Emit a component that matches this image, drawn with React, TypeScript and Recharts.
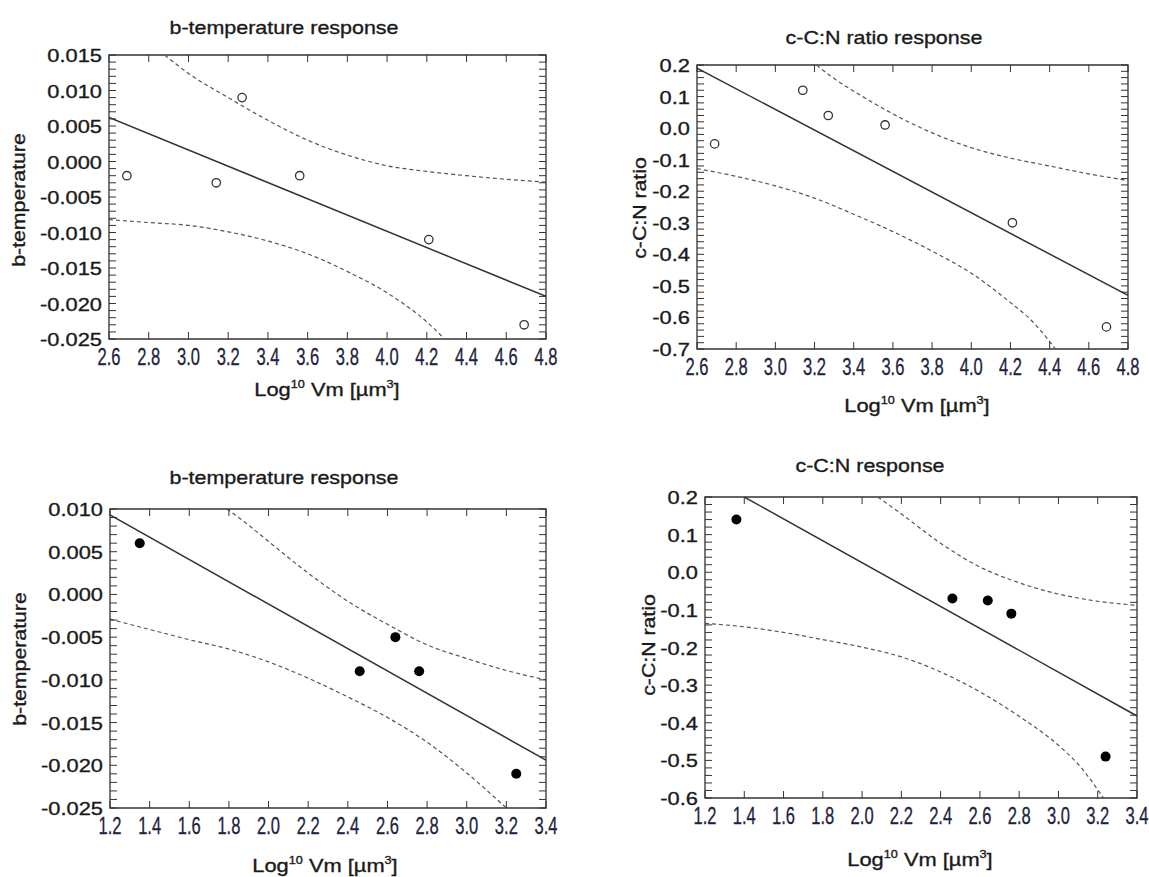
import { ComposedChart, Line, Scatter, XAxis, YAxis, ReferenceArea } from 'recharts';

// ---- top row: b-temperature / C:N ratio vs log10 cell volume (open circles)
const xTicksTop = [2.6, 2.8, 3.0, 3.2, 3.4, 3.6, 3.8, 4.0, 4.2, 4.4, 4.6, 4.8];

const tempPointsTop = [[2.69, -0.002], [3.14, -0.003], [3.27, 0.009], [3.56, -0.002], [4.21, -0.011], [4.69, -0.023]];
const tempFitTop = [[2.6, 0.0062], [4.8, -0.019]];
const tempUpperTop = [[2.88, 0.015], [3.0, 0.0124], [3.2, 0.009], [3.4, 0.0058], [3.6, 0.003], [3.8, 0.0009], [4.0, -0.0006], [4.2, -0.0014], [4.4, -0.002], [4.6, -0.0025], [4.8, -0.0029]];
const tempLowerTop = [[2.6, -0.0082], [2.8, -0.0086], [3.0, -0.009], [3.2, -0.0099], [3.4, -0.0112], [3.6, -0.013], [3.8, -0.0155], [4.0, -0.0185], [4.2, -0.0226], [4.29, -0.025]];

const cnPointsTop = [[2.69, -0.05], [3.14, 0.12], [3.27, 0.04], [3.56, 0.01], [4.21, -0.3], [4.69, -0.63]];
const cnFitTop = [[2.6, 0.19], [4.8, -0.53]];
const cnUpperTop = [[3.21, 0.2], [3.3, 0.157], [3.4, 0.117], [3.5, 0.08], [3.6, 0.045], [3.8, -0.015], [4.0, -0.062], [4.2, -0.095], [4.4, -0.12], [4.6, -0.145], [4.8, -0.166]];
const cnLowerTop = [[2.6, -0.128], [2.8, -0.153], [3.0, -0.183], [3.2, -0.222], [3.4, -0.273], [3.6, -0.328], [3.8, -0.39], [4.0, -0.46], [4.2, -0.553], [4.3, -0.605], [4.43, -0.7]];

// ---- bottom row (filled circles)
const xTicksBottom = [1.2, 1.4, 1.6, 1.8, 2.0, 2.2, 2.4, 2.6, 2.8, 3.0, 3.2, 3.4];

const tempPointsBottom = [[1.35, 0.006], [2.46, -0.009], [2.64, -0.005], [2.76, -0.009], [3.25, -0.021]];
const tempFitBottom = [[1.2, 0.0093], [3.4, -0.0194]];
const tempUpperBottom = [[1.79, 0.01], [1.9, 0.0081], [2.0, 0.0062], [2.2, 0.0025], [2.4, -0.0008], [2.6, -0.0035], [2.8, -0.0059], [3.0, -0.0075], [3.2, -0.0089], [3.4, -0.01]];
const tempLowerBottom = [[1.2, -0.0029], [1.4, -0.0041], [1.6, -0.0053], [1.8, -0.0064], [2.0, -0.0079], [2.2, -0.0098], [2.4, -0.012], [2.6, -0.0144], [2.8, -0.0173], [3.0, -0.0209], [3.2, -0.025]];

const cnPointsBottom = [[1.36, 0.14], [2.46, -0.07], [2.64, -0.075], [2.76, -0.11], [3.24, -0.49]];
const cnFitBottom = [[1.4, 0.2], [3.4, -0.382]];
const cnUpperBottom = [[2.08, 0.2], [2.2, 0.155], [2.4, 0.077], [2.6, 0.014], [2.8, -0.028], [3.0, -0.058], [3.2, -0.077], [3.4, -0.088]];
const cnLowerBottom = [[1.2, -0.136], [1.4, -0.145], [1.6, -0.16], [1.8, -0.179], [2.0, -0.199], [2.2, -0.225], [2.4, -0.265], [2.6, -0.318], [2.8, -0.383], [3.0, -0.46], [3.1, -0.51], [3.23, -0.6]];

const FONT = '"Liberation Sans", Arial, sans-serif';
const INK = '#1a1a1a';
const FRAME = '#333';
const TM = 4; // tick margin
const TICK = 7;

// thin outline on text so it reads as heavy as the scanned original
const heavy = { stroke: INK, strokeWidth: 0.35 };

const toPts = (arr: number[][]) => arr.map(([x, y]) => ({ x, y }));

const minorTicks = (min: number, max: number, step: number) => {
  const out: number[] = [];
  const n = Math.round((max - min) / step);
  for (let i = 0; i <= n; i++) out.push(Number((min + i * step).toFixed(6)));
  return out;
};

const makeXTick = (plotH: number) => (props: any) => {
  const { x, y, payload } = props;
  const base = y - TM;
  return (
    <g>
      <line x1={x} x2={x} y1={base} y2={base - TICK} stroke={FRAME} />
      <line x1={x} x2={x} y1={base - plotH} y2={base - plotH + TICK} stroke={FRAME} />
      <text
        transform={`translate(${x},${base + 26}) scale(0.72,1)`}
        textAnchor="middle"
        fontSize={23}
        fontFamily={FONT}
        fill="#1e2440"
        stroke="#1e2440"
        strokeWidth={0.3}
      >
        {Number(payload.value).toFixed(1)}
      </text>
    </g>
  );
};

const makeYTick = (plotW: number, major: number, digits: number) => (props: any) => {
  const { x, y, payload } = props;
  const edge = x + TM;
  const v = Number(payload.value);
  const isMajor = Math.abs(v / major - Math.round(v / major)) < 1e-6;
  const shown = Math.abs(v) < 1e-9 ? 0 : v;
  return (
    <g>
      <line x1={edge} x2={edge + TICK} y1={y} y2={y} stroke={FRAME} />
      <line x1={edge + plotW} x2={edge + plotW - TICK} y1={y} y2={y} stroke={FRAME} />
      {isMajor && (
        <text
          transform={`translate(${edge - 7},${y + 7}) scale(1.15,1)`}
          textAnchor="end"
          fontSize={19}
          fontFamily={FONT}
          fill={INK}
          {...heavy}
        >
          {shown.toFixed(digits)}
        </text>
      )}
    </g>
  );
};

interface PanelProps {
  left: number;
  top: number;
  width: number;
  height: number;
  margin: { top: number; right: number; bottom: number; left: number };
  yWidth: number;
  xHeight: number;
  xDomain: [number, number];
  xTicks: number[];
  yDomain: [number, number];
  yMajor: number;
  yMinor: number;
  yDigits: number;
  points: number[][];
  fit: number[][];
  upper: number[][];
  lower: number[][];
  filled: boolean;
  title: string;
  yLabel: string;
  titlePos: [number, number];
  yLabelPos: [number, number];
  xLabelPos: [number, number];
}

const Panel = (p: PanelProps) => {
  const plotW = p.width - p.margin.left - p.margin.right - p.yWidth;
  const plotH = p.height - p.margin.top - p.margin.bottom - p.xHeight;
  const marker = (props: any) =>
    p.filled ? (
      <circle cx={props.cx} cy={props.cy} r={5} fill="#000" />
    ) : (
      <circle cx={props.cx} cy={props.cy} r={4.2} fill="#fff" stroke="#333" strokeWidth={1.3} />
    );

  return (
    <div style={{ position: 'absolute', left: p.left, top: p.top }}>
      <ComposedChart width={p.width} height={p.height} margin={p.margin}>
        <XAxis
          type="number"
          dataKey="x"
          domain={p.xDomain}
          ticks={p.xTicks}
          interval={0}
          allowDataOverflow
          axisLine={false}
          tickLine={false}
          tickSize={0}
          tickMargin={TM}
          height={p.xHeight}
          tick={makeXTick(plotH)}
        />
        <YAxis
          type="number"
          dataKey="y"
          domain={p.yDomain}
          ticks={minorTicks(p.yDomain[0], p.yDomain[1], p.yMinor)}
          interval={0}
          allowDataOverflow
          axisLine={false}
          tickLine={false}
          tickSize={0}
          tickMargin={TM}
          width={p.yWidth}
          tick={makeYTick(plotW, p.yMajor, p.yDigits)}
        />
        <ReferenceArea
          x1={p.xDomain[0]}
          x2={p.xDomain[1]}
          y1={p.yDomain[0]}
          y2={p.yDomain[1]}
          fill="none"
          stroke={FRAME}
          strokeWidth={1.3}
        />
        <Line data={toPts(p.upper)} dataKey="y" type="monotone" stroke="#555" strokeWidth={1.2} strokeDasharray="4 3" dot={false} isAnimationActive={false} />
        <Line data={toPts(p.lower)} dataKey="y" type="monotone" stroke="#555" strokeWidth={1.2} strokeDasharray="4 3" dot={false} isAnimationActive={false} />
        <Line data={toPts(p.fit)} dataKey="y" type="linear" stroke="#333" strokeWidth={1.5} dot={false} isAnimationActive={false} />
        <Scatter data={toPts(p.points)} dataKey="y" shape={marker} isAnimationActive={false} />
        <text
          transform={`translate(${p.titlePos[0]},${p.titlePos[1]}) scale(1.13,1)`}
          textAnchor="middle"
          fontSize={19}
          fontFamily={FONT}
          fill={INK}
          {...heavy}
        >
          {p.title}
        </text>
        <text
          transform={`translate(${p.yLabelPos[0]},${p.yLabelPos[1]}) rotate(-90) scale(1.15,1)`}
          textAnchor="middle"
          fontSize={18.5}
          fontFamily={FONT}
          fill={INK}
          {...heavy}
        >
          {p.yLabel}
        </text>
        <text
          transform={`translate(${p.xLabelPos[0]},${p.xLabelPos[1]}) scale(1.15,1)`}
          textAnchor="middle"
          fontSize={19}
          fontFamily={FONT}
          fill={INK}
          {...heavy}
        >
          Log<tspan dy={-8} fontSize={11}>10</tspan>
          <tspan dy={8}> Vm [µm</tspan>
          <tspan dy={-8} fontSize={11}>3</tspan>
          <tspan dy={8}>]</tspan>
        </text>
      </ComposedChart>
    </div>
  );
};

export default function App() {
  return (
    <div style={{ position: 'absolute', left: 0, top: 0, width: 1149, height: 877, background: '#fff' }}>
      <Panel
        left={0} top={0} width={575} height={420}
        margin={{ top: 55, right: 29, bottom: 11, left: 0 }} yWidth={109} xHeight={70}
        xDomain={[2.6, 4.8]} xTicks={xTicksTop}
        yDomain={[-0.025, 0.015]} yMajor={0.005} yMinor={0.001} yDigits={3}
        points={tempPointsTop} fit={tempFitTop} upper={tempUpperTop} lower={tempLowerTop} filled={false}
        title="b-temperature response" yLabel="b-temperature"
        titlePos={[284, 34]} yLabelPos={[25, 200]} xLabelPos={[327, 396]}
      />
      <Panel
        left={580} top={0} width={569} height={420}
        margin={{ top: 65, right: 21, bottom: 11, left: 0 }} yWidth={117} xHeight={60}
        xDomain={[2.6, 4.8]} xTicks={xTicksTop}
        yDomain={[-0.7, 0.2]} yMajor={0.1} yMinor={0.02} yDigits={1}
        points={cnPointsTop} fit={cnFitTop} upper={cnUpperTop} lower={cnLowerTop} filled={false}
        title="c-C:N ratio response" yLabel="c-C:N ratio"
        titlePos={[304, 44]} yLabelPos={[66, 208]} xLabelPos={[337, 412]}
      />
      <Panel
        left={0} top={440} width={575} height={437}
        margin={{ top: 69, right: 29, bottom: 9, left: 0 }} yWidth={110} xHeight={60}
        xDomain={[1.2, 3.4]} xTicks={xTicksBottom}
        yDomain={[-0.025, 0.01]} yMajor={0.005} yMinor={0.001} yDigits={3}
        points={tempPointsBottom} fit={tempFitBottom} upper={tempUpperBottom} lower={tempLowerBottom} filled
        title="b-temperature response" yLabel="b-temperature"
        titlePos={[284, 44]} yLabelPos={[26, 219]} xLabelPos={[325, 432]}
      />
      <Panel
        left={580} top={440} width={569} height={437}
        margin={{ top: 57, right: 12, bottom: 19, left: 0 }} yWidth={125} xHeight={60}
        xDomain={[1.2, 3.4]} xTicks={xTicksBottom}
        yDomain={[-0.6, 0.2]} yMajor={0.1} yMinor={0.02} yDigits={1}
        points={cnPointsBottom} fit={cnFitBottom} upper={cnUpperBottom} lower={cnLowerBottom} filled
        title="c-C:N response" yLabel="c-C:N ratio"
        titlePos={[290, 32]} yLabelPos={[75, 205]} xLabelPos={[340, 426]}
      />
    </div>
  );
}
